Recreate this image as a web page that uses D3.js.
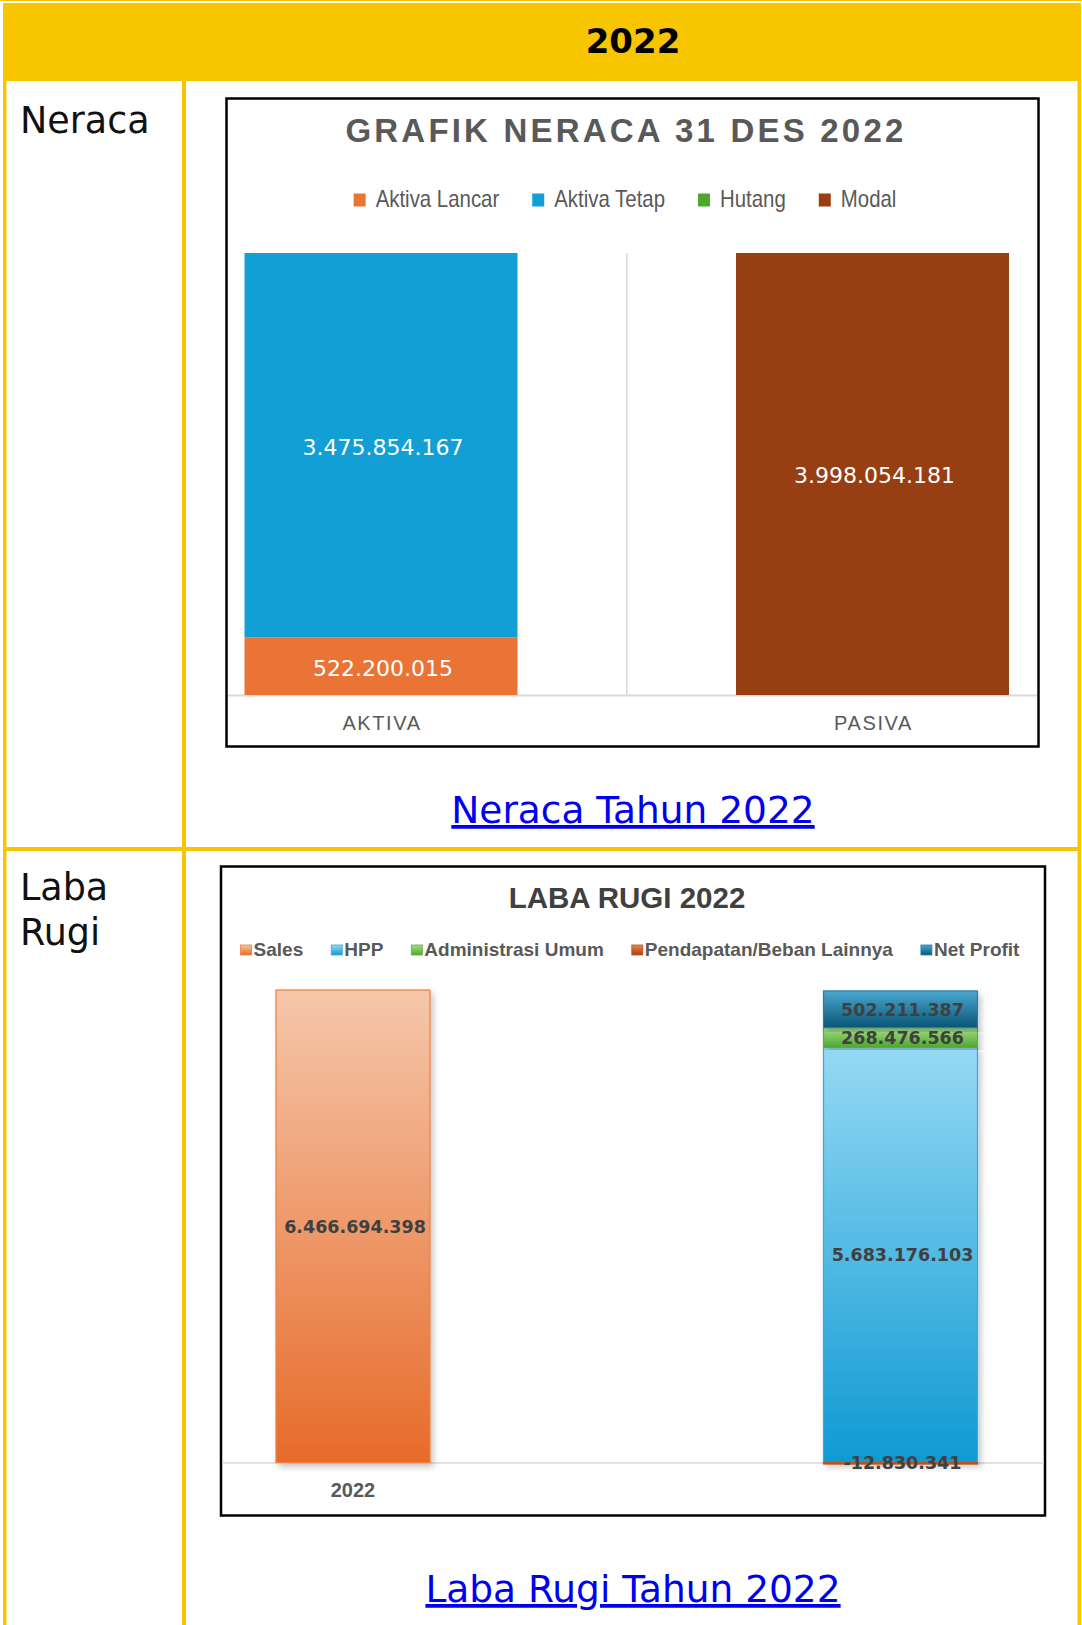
<!DOCTYPE html>
<html>
<head>
<meta charset="utf-8">
<script src="https://cdn.jsdelivr.net/npm/d3@7"></script>
<style>
  body { margin: 0; background: #fff; }
  svg { display: block; }
  a text { cursor: pointer; }
</style>
</head>
<body>
<script>
// data neraca
const neracaCategories = ["AKTIVA", "PASIVA"]
const neracaKeys = ["Aktiva Lancar", "Aktiva Tetap", "Hutang", "Modal"]
const neracaAktiva = [522200015, 3475854167, 0, 0]
const neracaPasiva = [0, 0, 0, 3998054181]
const neracaColors = ["#e97435", "#129fd6", "#4ea72e", "#973f12"]

// data laba rugi
const labaCategories = ["2022", ""]
const labaKeys = ["Sales", "HPP", "Administrasi Umum", "Pendapatan/Beban Lainnya", "Net Profit"]
const labaSales = [6466694398, 0, 0, 0, 0]
const labaRincian = [0, 5683176103, 268476566, -12830341, 502211387]
// gradient warna (atas, bawah, garis)
const labaColors = [
    ["#f5c7ab", "#e76b2a", "#ee7f3c"],
    ["#95d9f4", "#0f9ad3", "#3aa7da"],
    ["#a6dd88", "#4ea72e", "#5aae3a"],
    ["#e4894f", "#a8400f", "#c0501a"],
    ["#4ba7d1", "#0a5676", "#2a7ea6"]
]

const W = 1082, H = 1625
const yellow = "#f7c600"
const fmt = d3.formatLocale({ decimal: ",", thousands: ".", grouping: [3], currency: ["", ""], minus: "-" }).format(",d")

let svg = d3.select("body").append("svg").attr("width", W).attr("height", H)

// ---------- tabel ----------
svg.append("rect").attr("x", 0).attr("y", 0).attr("width", W).attr("height", 1).style("fill", yellow)
svg.append("rect").attr("x", 3).attr("y", 3).attr("width", 1078).attr("height", 78).style("fill", yellow)
svg.append("rect").attr("x", 3).attr("y", 3).attr("width", 3.5).attr("height", H).style("fill", yellow)
svg.append("rect").attr("x", 1077.5).attr("y", 3).attr("width", 3.5).attr("height", H).style("fill", yellow)
svg.append("rect").attr("x", 182).attr("y", 80).attr("width", 4).attr("height", H).style("fill", yellow)
svg.append("rect").attr("x", 3).attr("y", 847).attr("width", 1078).attr("height", 4).style("fill", yellow)

svg.append("text").text("2022")
    .attr("x", 633).attr("y", 53)
    .attr("text-anchor", "middle")
    .style("font", "bold 34px 'DejaVu Sans'")
    .style("fill", "#000")

svg.append("text").text("Neraca")
    .attr("x", 20).attr("y", 133)
    .style("font", "36.5px 'DejaVu Sans'").style("fill", "#111")
let lr = svg.append("text").attr("x", 20).style("font", "36.5px 'DejaVu Sans'").style("fill", "#111")
lr.append("tspan").attr("x", 20).attr("y", 900).text("Laba")
lr.append("tspan").attr("x", 20).attr("y", 945).text("Rugi")

function link(txt, y) {
    svg.append("a").attr("href", "#")
        .append("text").text(txt)
        .attr("x", 633).attr("y", y)
        .attr("text-anchor", "middle")
        .style("font", "37.5px 'DejaVu Sans'")
        .style("fill", "#0000ee")
        .style("text-decoration", "underline")
}
link("Neraca Tahun 2022", 823)
link("Laba Rugi Tahun 2022", 1602)

// sempitkan teks (font Calibri tidak ada)
function narrow(sel, k) {
    sel.each(function() {
        let w = this.getComputedTextLength()
        d3.select(this).attr("textLength", w * k).attr("lengthAdjust", "spacingAndGlyphs")
    })
}

// legenda, ditaruh di tengah cx
function legend(g, keys, fill, o) {
    let items = g.selectAll("g.item").data(keys).enter().append("g").attr("class", "item")
    items.append("rect")
        .attr("width", o.sq).attr("height", o.sqh)
        .attr("y", o.y - o.sqh)
        .style("fill", (d, i) => fill(i))
        .style("stroke", o.stroke ? (d, i) => o.stroke(i) : "none")
        .style("stroke-width", 0.8)
    let t = items.append("text").text(d => d)
        .attr("x", o.sq + o.gap).attr("y", o.ty)
        .style("font", o.font).style("fill", o.color)
    if (o.k) narrow(t, o.k)
    let widths = []
    t.each(function() { widths.push(o.k ? +this.getAttribute("textLength") : this.getComputedTextLength()) })
    let total = d3.sum(widths, w => o.sq + o.gap + w) + o.space * (keys.length - 1)
    let x = o.cx - total / 2
    items.attr("transform", (d, i) => {
        let tx = x
        x += o.sq + o.gap + widths[i] + o.space
        return "translate(" + tx + ",0)"
    })
}

// ---------- grafik neraca ----------
function drawNeraca() {
    let g = svg.append("g")
    g.append("rect").attr("x", 226.5).attr("y", 98.5).attr("width", 812).attr("height", 648)
        .style("fill", "#fff").style("stroke", "#000").style("stroke-width", 2.5)

    g.append("text").text("GRAFIK NERACA 31 DES 2022")
        .attr("x", 626).attr("y", 142)
        .attr("text-anchor", "middle")
        .style("font", "bold 33px 'Liberation Sans'")
        .style("letter-spacing", "3.2px")
        .style("fill", "#595959")

    legend(g.append("g"), neracaKeys, i => neracaColors[i], {
        sq: 12, sqh: 13, y: 206.5, ty: 207, gap: 10, space: 33, cx: 625,
        font: "24px 'Liberation Sans'", color: "#595959", k: 0.85
    })

    let rows = neracaCategories.map((c, i) => {
        let vals = i === 0 ? neracaAktiva : neracaPasiva
        let r = { cat: c }
        neracaKeys.forEach((k, j) => r[k] = vals[j])
        return r
    })
    let series = d3.stack().keys(neracaKeys)(rows)

    let x = d3.scalePoint().domain(neracaCategories).range([381, 872.5])
    let y = d3.scaleLinear().domain([0, d3.max(series[series.length - 1], d => d[1])]).range([695, 253])
    let bw = 273

    // garis pembatas kategori + sumbu
    g.append("line").attr("x1", (x("AKTIVA") + x("PASIVA")) / 2).attr("x2", (x("AKTIVA") + x("PASIVA")) / 2)
        .attr("y1", y.range()[1]).attr("y2", y(0))
        .style("stroke", "#d9d9d9").style("stroke-width", 1.5)
    g.append("line").attr("x1", 228).attr("x2", 1037).attr("y1", y(0) + 0.5).attr("y2", y(0) + 0.5)
        .style("stroke", "#d9d9d9").style("stroke-width", 2)

    let seg = []
    series.forEach((s, i) => s.forEach(d => {
        if (d[1] - d[0] !== 0) seg.push({ key: s.key, i: i, cat: d.data.cat, y0: d[0], y1: d[1] })
    }))

    g.append("g").selectAll("rect").data(seg).enter().append("rect")
        .attr("x", d => x(d.cat) - bw / 2)
        .attr("width", bw)
        .attr("y", d => y(d.y1))
        .attr("height", d => y(d.y0) - y(d.y1))
        .style("fill", d => neracaColors[d.i])

    g.append("g").selectAll("text").data(seg).enter().append("text")
        .text(d => fmt(d.y1 - d.y0))
        .attr("x", d => x(d.cat) + 2)
        .attr("y", d => (y(d.y0) + y(d.y1)) / 2 + 1.5)
        .attr("dy", "0.36em")
        .attr("text-anchor", "middle")
        .style("font", "22px 'DejaVu Sans'")
        .style("fill", "#fff")

    g.append("g").selectAll("text").data(neracaCategories).enter().append("text")
        .text(d => d)
        .attr("x", d => x(d) + 1)
        .attr("y", 730)
        .attr("text-anchor", "middle")
        .style("font", "20px 'Liberation Sans'")
        .style("letter-spacing", "1.6px")
        .style("fill", "#595959")
}

// ---------- grafik laba rugi ----------
function drawLaba() {
    let g = svg.append("g")
    let defs = g.append("defs")
    labaColors.forEach((c, i) => {
        let gr = defs.append("linearGradient").attr("id", "lg" + i)
            .attr("x1", "0%").attr("x2", "0%").attr("y1", "0%").attr("y2", "100%")
        gr.append("stop").attr("offset", "0%").attr("stop-color", c[0])
        gr.append("stop").attr("offset", "100%").attr("stop-color", c[1])
    })
    let f = defs.append("filter").attr("id", "shadow").attr("x", "-20%").attr("y", "-5%").attr("width", "140%").attr("height", "115%")
    f.append("feDropShadow").attr("dx", 3).attr("dy", 4).attr("stdDeviation", 3)
        .attr("flood-color", "#000").attr("flood-opacity", 0.22)

    g.append("rect").attr("x", 221).attr("y", 866.5).attr("width", 824).attr("height", 649)
        .style("fill", "#fff").style("stroke", "#000").style("stroke-width", 2.5)

    g.append("text").text("LABA RUGI 2022")
        .attr("x", 627).attr("y", 908)
        .attr("text-anchor", "middle")
        .style("font", "bold 29.5px 'Liberation Sans'")
        .style("fill", "#404040")

    legend(g.append("g"), labaKeys, i => "url(#lg" + i + ")", {
        sq: 11, sqh: 10, y: 955, ty: 956, gap: 2, space: 28, cx: 630,
        font: "bold 19px 'Liberation Sans'", color: "#595959",
        stroke: i => labaColors[i][2]
    })

    let rows = labaCategories.map((c, i) => {
        let vals = i === 0 ? labaSales : labaRincian
        let r = { cat: c }
        labaKeys.forEach((k, j) => r[k] = vals[j])
        return r
    })
    let series = d3.stack().keys(labaKeys).offset(d3.stackOffsetDiverging)(rows)

    let x = d3.scalePoint().domain(labaCategories).range([353, 900.5])
    let y = d3.scaleLinear().domain([0, d3.max(labaSales)]).range([1462.5, 990])
    let bw = 154

    g.append("line").attr("x1", 222).attr("x2", 1044).attr("y1", y(0) + 0.5).attr("y2", y(0) + 0.5)
        .style("stroke", "#d9d9d9").style("stroke-width", 1.5)

    let seg = []
    series.forEach((s, i) => s.forEach(d => {
        let v = d.data[s.key]
        if (v !== 0) seg.push({ key: s.key, i: i, cat: d.data.cat, y0: d[0], y1: d[1], v: v })
    }))

    g.append("g").selectAll("rect").data(seg).enter().append("rect")
        .attr("x", d => x(d.cat) - bw / 2)
        .attr("width", bw)
        .attr("y", d => y(d.y1))
        .attr("height", d => Math.max(1.5, y(d.y0) - y(d.y1)))
        .style("fill", d => "url(#lg" + d.i + ")")
        .style("stroke", d => labaColors[d.i][2])
        .style("stroke-width", 1.2)
        .attr("filter", "url(#shadow)")

    g.append("g").selectAll("text").data(seg).enter().append("text")
        .text(d => fmt(d.v))
        .attr("x", d => x(d.cat) + 2)
        .attr("y", d => (y(d.y0) + y(d.y1)) / 2)
        .attr("dy", "0.36em")
        .attr("text-anchor", "middle")
        .style("font", "bold 17.5px 'DejaVu Sans'")
        .style("fill", "#404040")

    g.append("g").selectAll("text").data(labaCategories).enter().append("text")
        .text(d => d)
        .attr("x", d => x(d))
        .attr("y", 1497)
        .attr("text-anchor", "middle")
        .style("font", "bold 20px 'Liberation Sans'")
        .style("fill", "#595959")
}

drawNeraca()
drawLaba()
</script>
</body>
</html>
